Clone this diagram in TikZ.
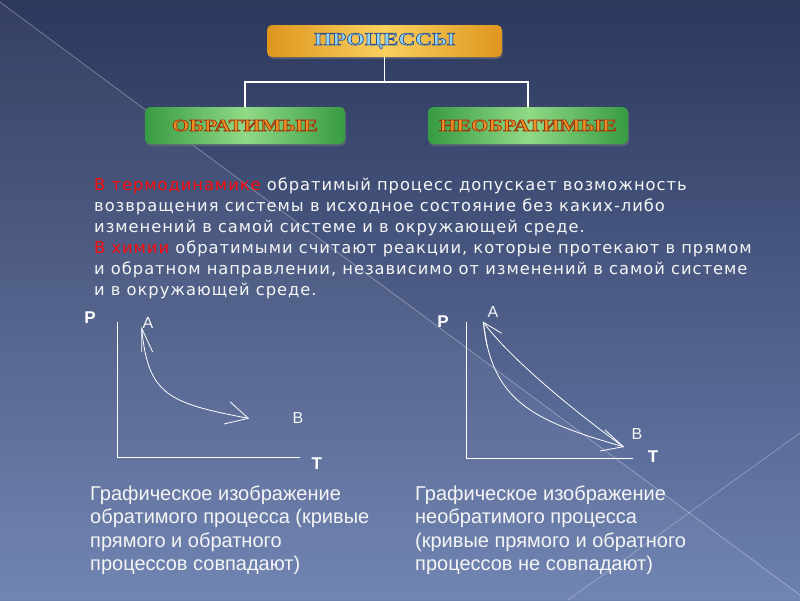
\documentclass[tikz,border=0pt]{standalone}
\usepackage{graphicx}
\usepackage{fontspec}
\setmainfont{Liberation Serif}
\newfontfamily\bodyfont{DejaVu Sans}[LetterSpace=6]
\newfontfamily\capfont{Liberation Sans}
\newfontfamily\lblfont{Liberation Sans}
\usetikzlibrary{shadows}
\definecolor{bgtop}{RGB}{44,56,92}
\definecolor{bgbot}{RGB}{108,128,176}
\definecolor{gold1}{RGB}{222,150,30}
\definecolor{gold2}{RGB}{250,208,95}
\definecolor{green1}{RGB}{55,155,65}
\definecolor{green2}{RGB}{145,218,135}
\definecolor{titleblue}{RGB}{150,212,242}
\definecolor{orangetxt}{RGB}{235,145,35}
\definecolor{redtxt}{RGB}{250,10,10}
\definecolor{txt}{RGB}{245,245,245}
\newcommand{\strokeon}[1]{\special{pdf:literal direct #1 RG 2 Tr 0.6 w}}
\newcommand{\strokeoff}{\special{pdf:literal direct 0 Tr}}
\begin{document}
\begin{tikzpicture}[x=1pt,y=-1pt,
  goldbox/.style={rounded corners=5pt, left color=gold1, right color=gold1, middle color=gold2,
    minimum width=235pt, minimum height=32pt, inner sep=0pt,
    drop shadow={shadow xshift=1pt, shadow yshift=-2pt, opacity=0.45}},
  greenbox/.style={rounded corners=5pt, left color=green1, right color=green1, middle color=green2,
    minimum width=200pt, minimum height=37pt, inner sep=0pt,
    drop shadow={shadow xshift=1pt, shadow yshift=-2pt, opacity=0.45}},
  conn/.style={draw=white, line width=1.6pt},
  axis/.style={draw=white, line width=1.3pt},
  curve/.style={draw=white, line width=0.8pt},
  bodyline/.style={anchor=base west, inner sep=0pt, text=txt, font=\bodyfont\fontsize{16.3}{18}\selectfont},
  capline/.style={anchor=base west, inner sep=0pt, text=txt, font=\capfont\fontsize{20}{23}\selectfont},
  axlbl/.style={inner sep=0pt, text=white, font=\lblfont\bfseries\fontsize{17}{17}\selectfont},
  ptlbl/.style={inner sep=0pt, text=txt, font=\lblfont\fontsize{16}{16}\selectfont}
]
\useasboundingbox (0,0) rectangle (800,600);
% background
\fill[top color=bgtop, bottom color=bgbot] (0,0) rectangle (800,600);
\fill[white, opacity=0.04] (0,2) -- (800,595) -- (800,600) -- (0,600) -- cycle;
\draw[white, opacity=0.35, line width=0.7pt] (0,2) -- (800,595);
\draw[white, opacity=0.3, line width=0.7pt] (800,433) -- (568,600);

% boxes
\node[goldbox] (proc) at (384.5,41) {\scalebox{1.3}[1]{\fontsize{18}{18}\selectfont\bfseries\color{titleblue}\strokeon{0.18 0.32 0.55}ПРОЦЕССЫ\strokeoff}};
\node[greenbox] (obr) at (245,125.5) {\scalebox{1.3}[1]{\fontsize{17}{17}\selectfont\bfseries\color{orangetxt}\strokeon{0.6 0.2 0.05}ОБРАТИМЫЕ\strokeoff}};
\node[greenbox] (neobr) at (528,125.5) {\scalebox{1.3}[1]{\fontsize{17}{17}\selectfont\bfseries\color{orangetxt}\strokeon{0.6 0.2 0.05}НЕОБРАТИМЫЕ\strokeoff}};
\coordinate (jl) at (245,82);
\coordinate (jr) at (528,82);
\draw[conn] (proc.south) -- (proc.south |- jl);
\draw[conn] (obr.north) -- (jl) -- (jr) -- (neobr.north);

% paragraph
\node[bodyline] (l1) at (94,190) {{\color{redtxt}В термодинамике} обратимый процесс допускает возможность};
\node[bodyline] (l2) at (94,211) {возвращения системы в исходное состояние без каких-либо};
\node[bodyline] (l3) at (94,232) {изменений в самой системе и в окружающей среде.};
\node[bodyline] (l4) at (94,253) {{\color{redtxt}В химии} обратимыми считают реакции, которые протекают в прямом};
\node[bodyline] (l5) at (94,274) {и обратном направлении, независимо от изменений в самой системе};
\node[bodyline] (l6) at (94,295) {и в окружающей среде.};

% left graph
\coordinate (o1) at (117.7,457.7);
\coordinate (y1) at (117.7,321.7);
\coordinate (x1) at (300,457.7);
\draw[axis] (y1) -- (o1) -- (x1);
\node[axlbl] (p1) at (90,318) {P};
\node[axlbl] (t1) at (316.7,464) {T};
\node[ptlbl] (a1) at (148,323) {A};
\node[ptlbl] (b1) at (298,418) {B};
\coordinate (ta1) at (141.7,328.3);
\coordinate (tb1) at (248.3,418.3);
\draw[curve] (ta1) .. controls (148,395) and (168,403) .. (tb1);
\draw[curve] (141.7,352) -- (ta1) -- (152.7,352);
\draw[curve] (230,401.7) -- (tb1) -- (224,424);

% right graph
\coordinate (o2) at (466.7,458.3);
\coordinate (y2) at (466.7,322);
\coordinate (x2) at (633.3,458.3);
\draw[axis] (y2) -- (o2) -- (x2);
\node[axlbl] (p2) at (443,322) {P};
\node[axlbl] (t2) at (653,457) {T};
\node[ptlbl] (a2) at (493,312) {A};
\node[ptlbl] (b2) at (637,434) {B};
\coordinate (ta2) at (483.3,322.3);
\coordinate (tb2) at (623.3,446.7);
\draw[curve] (ta2) .. controls (510,358) and (570,408) .. (tb2);
\draw[curve] (tb2) .. controls (530,420) and (492,400) .. (ta2);
\draw[curve] (501.7,333.3) -- (ta2) -- (487,346);
\draw[curve] (605,430) -- (tb2) -- (600,451);

% captions
\node[capline] (c1) at (90,500) {Графическое изображение};
\node[capline] (c2) at (90,523.5) {обратимого процесса (кривые};
\node[capline] (c3) at (90,547) {прямого и обратного};
\node[capline] (c4) at (90,570.5) {процессов совпадают)};
\node[capline] (d1) at (415,500) {Графическое изображение};
\node[capline] (d2) at (415,523.5) {необратимого процесса};
\node[capline] (d3) at (415,547) {(кривые прямого и обратного};
\node[capline] (d4) at (415,570.5) {процессов не совпадают)};
\end{tikzpicture}
\end{document}
